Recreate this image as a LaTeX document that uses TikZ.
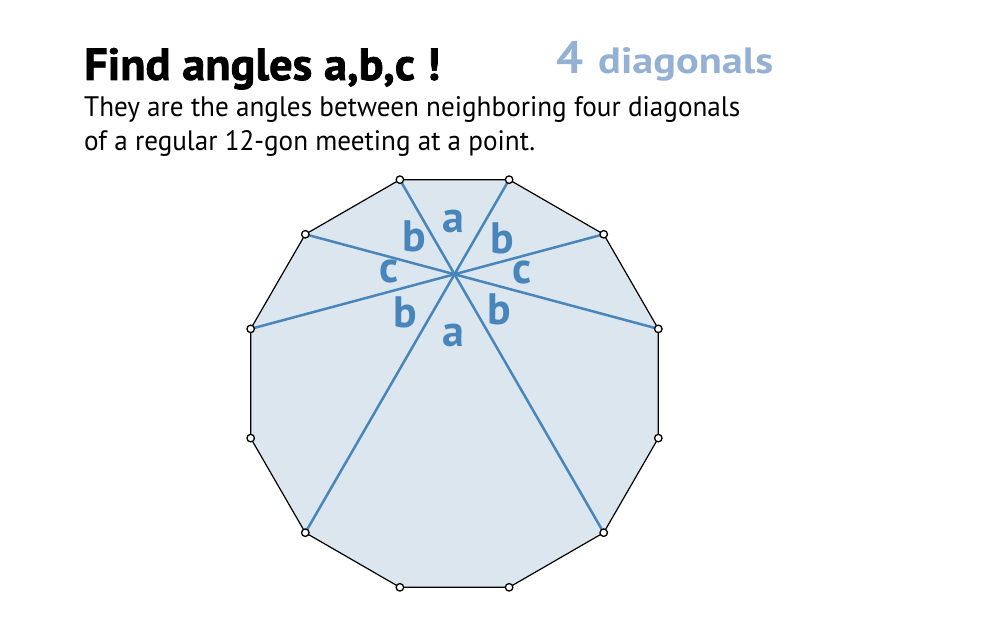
\documentclass[tikz,border=0pt]{standalone}
\usepackage{fontspec}
\setmainfont{PT Sans}
\newfontfamily\heavyfont[BoldFeatures={FakeBold=1.6}]{PT Sans}
\usepackage{graphicx}
\definecolor{diagblue}{RGB}{72,133,187}
\definecolor{polyfill}{RGB}{220,230,238}
\definecolor{headblue}{RGB}{148,176,210}
\begin{document}
\begin{tikzpicture}[x=1pt,y=1pt,
	diagonal/.style={line width=2.5pt,diagblue},
	corner/.style={circle,draw,fill=white,line width=1.3pt,inner sep=0pt,minimum size=7.5pt},
	anglelabel/.style={diagblue,font=\fontsize{44}{44}\selectfont\bfseries,inner sep=0pt},
	textline/.style={anchor=base west,inner sep=0pt}]
	\useasboundingbox (0,0) rectangle (996,620);

	\node[textline] (title) at (84,540) {\resizebox{356pt}{32pt}{\heavyfont\bfseries Find angles a,b,c !}};
	\node[textline,headblue] (four) at (556,546) {\resizebox{27pt}{32pt}{\bfseries 4}};
	\node[textline,headblue] (diagword) at (598,546) {\resizebox{175pt}{26pt}{\bfseries diagonals}};
	\node[textline] (lineone) at (84,503) {\resizebox{656pt}{20pt}{They are the angles between neighboring four diagonals}};
	\node[textline] (linetwo) at (84,469) {\resizebox{451pt}{20pt}{of a regular 12-gon meeting at a point.}};

	\begin{scope}[shift={(454.5,236.5)}]
		\foreach \i in {0,...,11}
			\coordinate (v\i) at ({15+30*\i}:211);
		\draw[fill=polyfill,line width=1.2pt] (v0) \foreach \i in {1,...,11}{-- (v\i)} -- cycle;
		\draw[diagonal] (v3) -- (v10);
		\draw[diagonal] (v2) -- (v7);
		\draw[diagonal] (v4) -- (v0);
		\draw[diagonal] (v1) -- (v5);
		\foreach \i in {0,...,11}
			\node[corner] (c\i) at (v\i) {};
	\end{scope}

	\node[anglelabel] (atop) at (453,399) {a};
	\node[anglelabel] (bupleft) at (414,384) {b};
	\node[anglelabel] (bupright) at (502,382) {b};
	\node[anglelabel] (cleft) at (389,348) {c};
	\node[anglelabel] (cright) at (522,347) {c};
	\node[anglelabel] (blowleft) at (405,308) {b};
	\node[anglelabel] (blowright) at (499,311) {b};
	\node[anglelabel] (abottom) at (453,284.5) {a};
\end{tikzpicture}
\end{document}
